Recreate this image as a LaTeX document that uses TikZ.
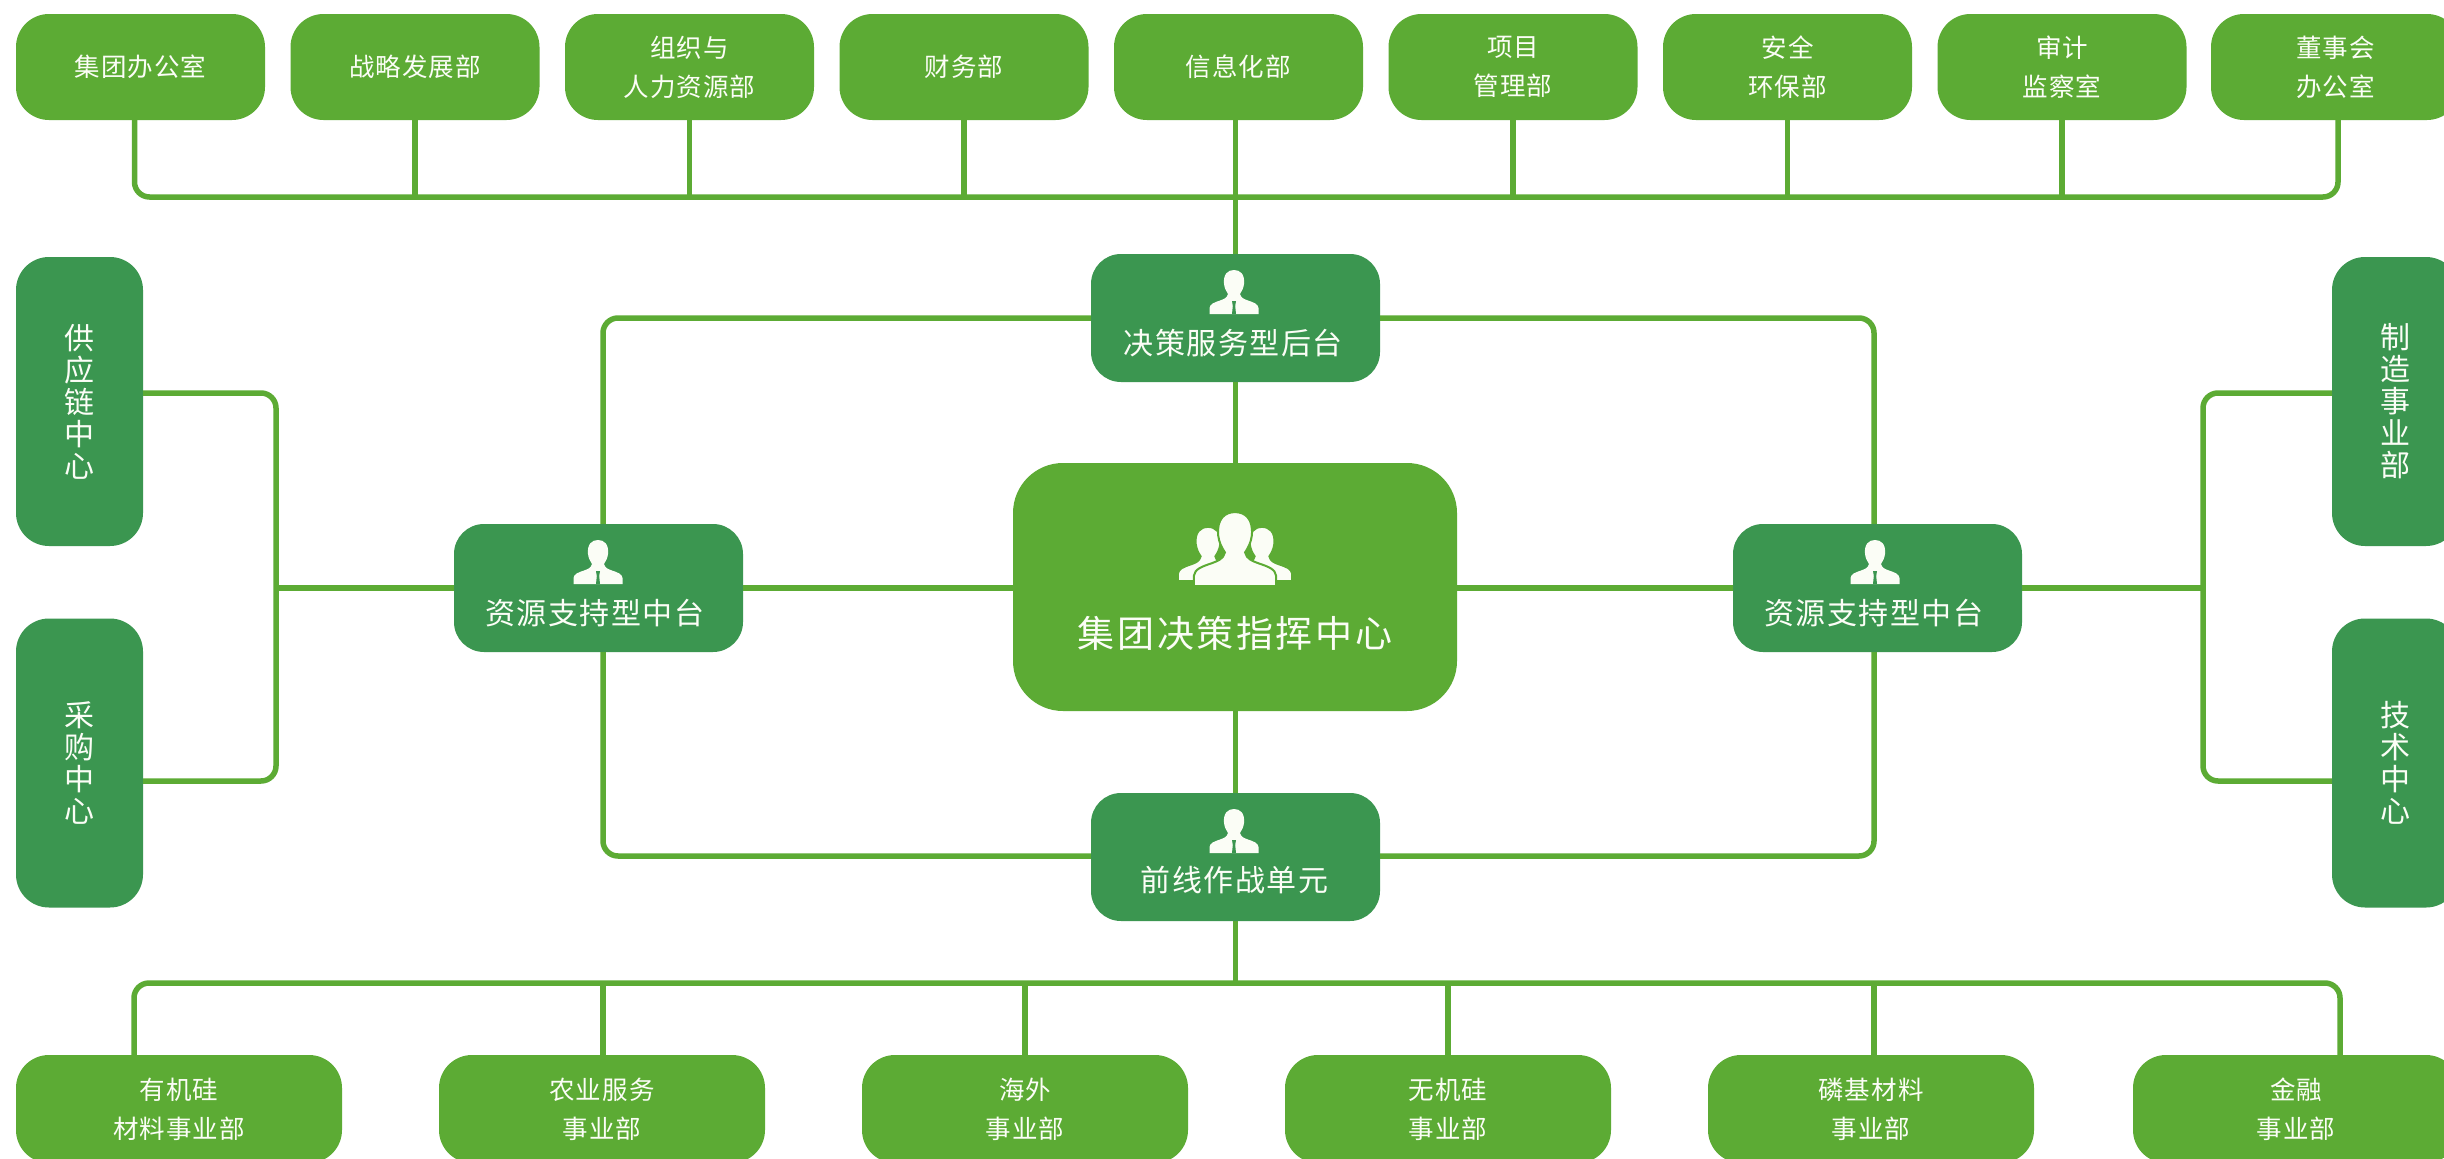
\documentclass[tikz,border=0pt]{standalone}
\usepackage{fontspec}
\newfontfamily\cjkS[LetterSpace=4]{Noto Sans CJK SC}
\newfontfamily\cjkM[LetterSpace=5]{Noto Sans CJK SC}
\newfontfamily\cjkL[LetterSpace=7]{Noto Sans CJK SC}
\newfontfamily\cjkV{Noto Sans CJK SC}
\definecolor{lightG}{HTML}{5CAB34}
\definecolor{darkG}{HTML}{3B9650}
\definecolor{softW}{HTML}{FBFDF6}
\newcommand{\lowered}[2]{\raisebox{-#1pt}[0pt][0pt]{#2}}
\def\bustpath{(-24.5,0) -- (-24.5,-6) .. controls (-24,-10) and (-20,-11.5) .. (-14,-13.5) .. controls (-10,-15) and (-7,-16) .. (-6,-20) .. controls (-8,-23) and (-9.5,-26) .. (-10,-30) .. controls (-11,-40) and (-6,-44) .. (0,-44) .. controls (6,-44) and (11,-40) .. (10,-30) .. controls (9.5,-26) and (8,-23) .. (6,-20) .. controls (7,-16) and (10,-15) .. (14,-13.5) .. controls (20,-11.5) and (24,-10) .. (24.5,-6) -- (24.5,0) -- cycle}
\tikzset{
  x=1pt,y=-1pt,
  box/.style={draw=none,fill=lightG,text=softW,inner sep=0pt,align=center,rounded corners=33pt},
  topbox/.style={box,minimum width=249pt,minimum height=106pt,font=\cjkS\fontsize{25.5}{39}\selectfont},
  botbox/.style={box,minimum width=326pt,minimum height=108pt,font=\cjkS\fontsize{25.5}{39}\selectfont},
  sidebox/.style={box,fill=darkG,minimum width=127pt,minimum height=289pt,font=\cjkV\fontsize{30}{32}\selectfont},
  midbox/.style={box,fill=darkG,minimum width=289pt,minimum height=128pt,rounded corners=30pt,font=\cjkM\fontsize{30}{34}\selectfont},
  corebox/.style={box,minimum width=444pt,minimum height=248pt,rounded corners=50pt,font=\cjkL\fontsize{37}{40}\selectfont},
  conn/.style={draw=lightG,line width=5.5pt},
  elbow/.style={conn,rounded corners=15pt},
  bust/.pic={\fill[softW] \bustpath; \fill[darkG] (-2,0) -- (-1.2,-8) -- (-2,-13) -- (2,-13) -- (1.2,-8) -- (2,0) -- cycle;},
  plainbust/.pic={\path[fill=softW,draw=lightG,line width=2pt] \bustpath;}
}
\begin{document}
\begin{tikzpicture}
\useasboundingbox (0,0) rectangle (2444,1159);
\clip (0,0) rectangle (2444,1159);
\fill[white] (0,0) rectangle (2444,1159);
% top row
\node[topbox] (t1) at (140.5,67) {集团办公室};
\node[topbox] (t2) at (415,67) {战略发展部};
\node[topbox] (t3) at (689.5,67) {组织与\\人力资源部};
\node[topbox] (t4) at (964,67) {财务部};
\node[topbox] (t5) at (1238.5,67) {信息化部};
\node[topbox] (t6) at (1513,67) {项目\\管理部};
\node[topbox] (t7) at (1787.5,67) {安全\\环保部};
\node[topbox] (t8) at (2062,67) {审计\\监察室};
\node[topbox] (t9) at (2335.5,67) {董事会\\办公室};
% side boxes
\node[sidebox] (s1) at (79.5,401.5) {供\\应\\链\\中\\心};
\node[sidebox] (s2) at (79.5,763) {采\\购\\中\\心};
\node[sidebox] (s3) at (2395.5,401.5) {制\\造\\事\\业\\部};
\node[sidebox] (s4) at (2395.5,763) {技\\术\\中\\心};
% core and middle platform boxes
\node[corebox] (core) at (1235,587) {\lowered{60}{集团决策指挥中心}};
\node[midbox] (up) at (1235.5,318) {\lowered{36}{决策服务型后台\kern5pt}};
\node[midbox] (down) at (1235.5,857) {\lowered{34}{前线作战单元\kern2pt}};
\node[midbox] (ml) at (598.5,588) {\lowered{36}{资源支持型中台\kern8pt}};
\node[midbox] (mr) at (1877.5,588) {\lowered{36}{资源支持型中台\kern8pt}};
% bottom row
\node[botbox] (b1) at (179,1109) {有机硅\\材料事业部};
\node[botbox] (b2) at (602,1109) {农业服务\\事业部};
\node[botbox] (b3) at (1025,1109) {海外\\事业部};
\node[botbox] (b4) at (1448,1109) {无机硅\\事业部};
\node[botbox] (b5) at (1871,1109) {磷基材料\\事业部};
\node[botbox] (b6) at (2296,1109) {金融\\事业部};
% icons
\pic at (1234,314) {bust};
\pic at (1234,853) {bust};
\pic at (598,584) {bust};
\pic at (1875,584) {bust};
\pic[scale=1.23] at (1208,581) {plainbust};
\pic[scale=1.23] at (1262,581) {plainbust};
\pic[scale=1.68] at (1235,586) {plainbust};
% free corners of connectors
\coordinate (tbl) at (134.5,197);
\coordinate (tbr) at (2338,197);
\coordinate (bbl) at (134,983);
\coordinate (bbr) at (2340,983);
\coordinate (ringtl) at (603,318);
\coordinate (ringtr) at (1874,318);
\coordinate (ringbl) at (603,856);
\coordinate (ringbr) at (1874,856);
\coordinate (brl1) at (276,393);
\coordinate (brl2) at (276,781);
\coordinate (brr1) at (2203,393);
\coordinate (brr2) at (2203,781);
% top bus
\draw[elbow] (t1.south -| tbl) -- (tbl) -- (tbr) -- (t9.south -| tbr);
\foreach \n in {t2,t3,t4,t6,t7,t8} \draw[conn] (\n.south) -- (\n.south |- tbl);
\draw[conn] (t5.south -| up.north) -- (up.north);
% centre spine
\draw[conn] (up.south) -- (core.north -| up.south);
\draw[conn] (core.south -| down.north) -- (down.north);
\draw[conn] (down.south) -- (down.south |- bbl);
% ring
\draw[elbow] (ml.north -| ringtl) -- (ringtl) -- (up.west);
\draw[elbow] (mr.north -| ringtr) -- (ringtr) -- (up.east);
\draw[elbow] (ml.south -| ringbl) -- (ringbl) -- (down.west |- ringbl);
\draw[elbow] (mr.south -| ringbr) -- (ringbr) -- (down.east |- ringbr);
\draw[conn] (ml.east) -- (core.west |- ml.east);
\draw[conn] (mr.west) -- (core.east |- mr.west);
% side brackets
\draw[elbow] (s1.east |- brl1) -- (brl1) -- (brl2) -- (s2.east |- brl2);
\draw[elbow] (s3.west |- brr1) -- (brr1) -- (brr2) -- (s4.west |- brr2);
\draw[conn] (ml.west) -- (ml.west -| brl1);
\draw[conn] (mr.east) -- (mr.east -| brr1);
% bottom bus
\draw[elbow] (b1.north -| bbl) -- (bbl) -- (bbr) -- (b6.north -| bbr);
\draw[conn] (b2.north -| ringbl) -- (ringbl |- bbl);
\draw[conn] (b3.north) -- (b3.north |- bbl);
\draw[conn] (b4.north) -- (b4.north |- bbl);
\draw[conn] (b5.north -| ringbr) -- (ringbr |- bbl);
\end{tikzpicture}
\end{document}
